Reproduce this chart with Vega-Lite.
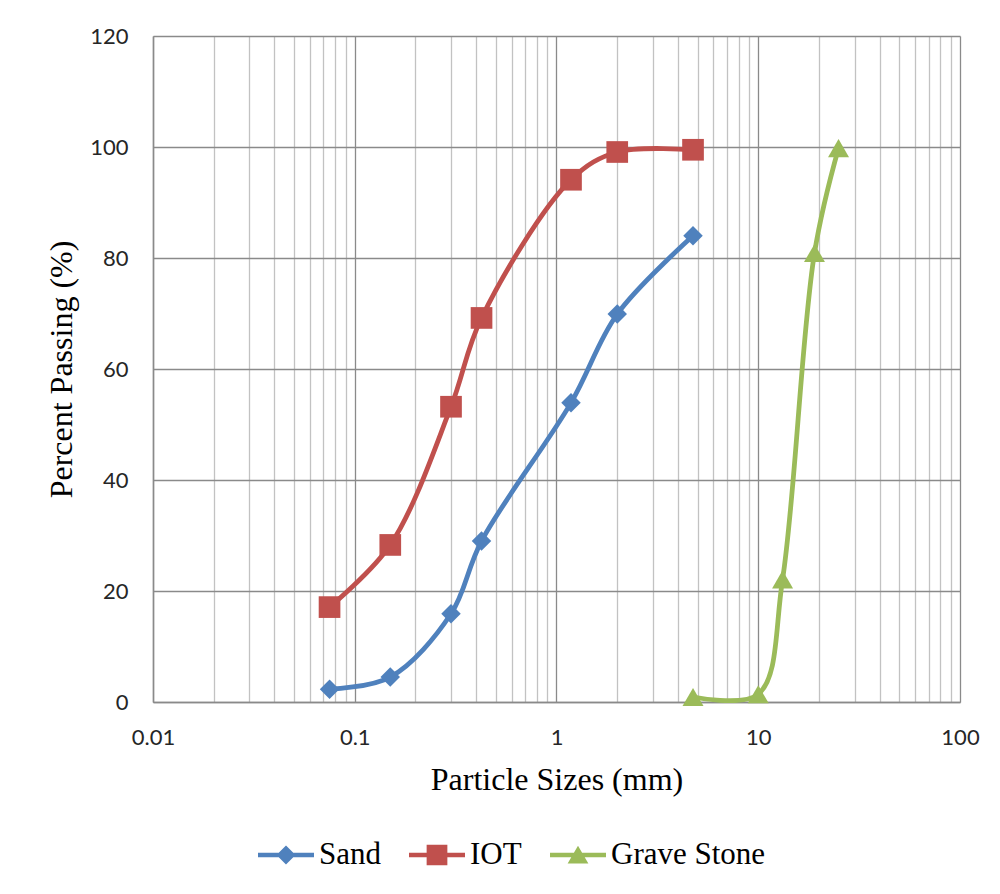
{
  "$schema": "https://vega.github.io/schema/vega-lite/v6.json",
  "autosize": "none",
  "width": 807,
  "height": 666,
  "padding": {"left": 153, "top": 36, "right": 40, "bottom": 192},
  "background": "white",
  "config": {"view": {"stroke": null}},
  "data": {
    "values": [
      {"series": "Sand", "size": 0.075, "passing": 2.3},
      {"series": "Sand", "size": 0.15, "passing": 4.5},
      {"series": "Sand", "size": 0.3, "passing": 15.9},
      {"series": "Sand", "size": 0.425, "passing": 29.0},
      {"series": "Sand", "size": 1.18, "passing": 53.9},
      {"series": "Sand", "size": 2.0, "passing": 69.9},
      {"series": "Sand", "size": 4.75, "passing": 84.0},
      {"series": "IOT", "size": 0.075, "passing": 17.1},
      {"series": "IOT", "size": 0.15, "passing": 28.3},
      {"series": "IOT", "size": 0.3, "passing": 53.2},
      {"series": "IOT", "size": 0.425, "passing": 69.2},
      {"series": "IOT", "size": 1.18, "passing": 94.1},
      {"series": "IOT", "size": 2.0, "passing": 99.1},
      {"series": "IOT", "size": 4.75, "passing": 99.5},
      {"series": "Grave Stone", "size": 4.75, "passing": 0.9},
      {"series": "Grave Stone", "size": 10, "passing": 1.4},
      {"series": "Grave Stone", "size": 13.2, "passing": 22.1},
      {"series": "Grave Stone", "size": 19, "passing": 80.9},
      {"series": "Grave Stone", "size": 25, "passing": 99.8}
    ]
  },
  "encoding": {
    "x": {
      "field": "size",
      "type": "quantitative",
      "scale": {"type": "log", "domain": [0.01, 100], "nice": false},
      "axis": {
        "title": "Particle Sizes (mm)",
        "titleFont": "Liberation Serif",
        "titleFontSize": 32,
        "titleFontWeight": "normal",
        "titleColor": "#000000",
        "titlePadding": 16,
        "values": [0.01, 0.02, 0.03, 0.04, 0.05, 0.06, 0.07, 0.08, 0.09, 0.1, 0.2, 0.3, 0.4, 0.5, 0.6, 0.7, 0.8, 0.9, 1, 2, 3, 4, 5, 6, 7, 8, 9, 10, 20, 30, 40, 50, 60, 70, 80, 90, 100],
        "format": "~g",
        "labelExpr": "indexof(['0.01','0.1','1','10','100'], datum.label) >= 0 ? datum.label : ''",
        "labelOverlap": false,
        "labelBound": false,
        "labelFlush": false,
        "labelFont": "Lato",
        "labelFontSize": 22,
        "labelColor": "#262626",
        "labelPadding": 25,
        "ticks": false,
        "domainColor": "#8a8a8a",
        "domainWidth": 1.5,
        "grid": true,
        "gridWidth": 1.3,
        "gridColor": {"condition": {"test": "indexof([0.01, 0.1, 1, 10, 100], datum.value) >= 0", "value": "#8a8a8a"}, "value": "#c2c2c2"}
      }
    },
    "y": {
      "field": "passing",
      "type": "quantitative",
      "scale": {"domain": [0, 120], "nice": false},
      "axis": {
        "title": "Percent Passing (%)",
        "titleFont": "Liberation Serif",
        "titleFontSize": 32,
        "titleFontWeight": "normal",
        "titleColor": "#000000",
        "titlePadding": 11,
        "values": [0, 20, 40, 60, 80, 100, 120],
        "labelFont": "Lato",
        "labelFontSize": 22,
        "labelColor": "#262626",
        "labelPadding": 25,
        "ticks": false,
        "domainColor": "#8a8a8a",
        "domainWidth": 1.5,
        "grid": true,
        "gridColor": "#8a8a8a",
        "gridWidth": 1.3
      }
    },
    "color": {
      "field": "series",
      "type": "nominal",
      "scale": {"domain": ["Sand", "IOT", "Grave Stone"], "range": ["#4F81BD", "#C0504D", "#9BBB59"]},
      "legend": {
        "orient": "none",
        "legendX": 105,
        "legendY": 791,
        "direction": "horizontal",
        "title": null,
        "symbolSize": 3136,
        "symbolStrokeWidth": 0,
        "labelFont": "Liberation Serif",
        "labelFontSize": 31,
        "labelColor": "#000000",
        "labelOffset": 5,
        "columnPadding": 28,
        "labelLimit": 300,
        "encode": {
          "symbols": {
            "update": {
              "shape": {"signal": "datum.value === 'Sand' ? 'M-1,-0.08L1,-0.08L1,0.08L-1,0.08Z M0,-0.34L0.34,0L0,0.34L-0.34,0Z' : datum.value === 'IOT' ? 'M-1,-0.08L1,-0.08L1,0.08L-1,0.08Z M-0.37,-0.37L0.37,-0.37L0.37,0.37L-0.37,0.37Z' : 'M-1,-0.08L1,-0.08L1,0.08L-1,0.08Z M0,-0.33L0.37,0.3L-0.37,0.3Z'"},
              "fill": {"scale": "color", "field": "value"},
              "stroke": {"value": "transparent"},
              "opacity": {"value": 1}
            }
          }
        }
      }
    }
  },
  "layer": [
    {
      "mark": {"type": "line", "interpolate": "catmull-rom", "strokeWidth": 4.8}
    },
    {
      "transform": [{"filter": "datum.series === 'Sand'"}],
      "mark": {"type": "point", "filled": true, "opacity": 1, "shape": "diamond", "size": 380}
    },
    {
      "transform": [{"filter": "datum.series === 'IOT'"}],
      "mark": {"type": "point", "filled": true, "opacity": 1, "shape": "square", "size": 470}
    },
    {
      "transform": [{"filter": "datum.series === 'Grave Stone'"}],
      "mark": {"type": "point", "filled": true, "opacity": 1, "shape": "triangle-up", "size": 440}
    }
  ]
}
